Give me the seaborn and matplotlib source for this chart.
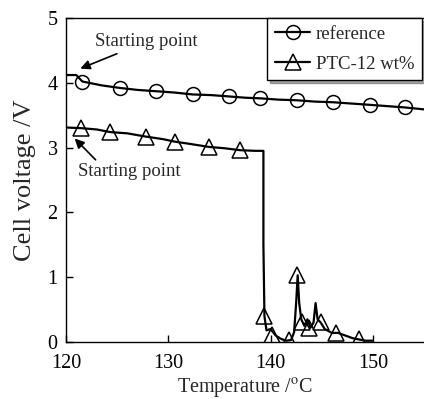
import numpy as np
import pandas as pd
import matplotlib
matplotlib.use("Agg")
import matplotlib.pyplot as plt
from matplotlib.lines import Line2D
import seaborn as sns

# reference cell: dense trace and the sparse markers
ref_t = [120.0, 121.0, 121.6, 123.5, 125.3, 127.0, 128.8, 130.6, 132.4, 134.2, 135.9,
         137.5, 139.0, 140.8, 142.6, 144.3, 146.1, 147.9, 149.7, 151.4, 153.1, 155.0]
ref_v = [4.12, 4.12, 4.02, 3.96, 3.92, 3.89, 3.87, 3.85, 3.82, 3.81, 3.79,
         3.77, 3.76, 3.74, 3.73, 3.71, 3.70, 3.68, 3.66, 3.64, 3.62, 3.59]
ref_mk_t = [121.6, 125.3, 128.8, 132.4, 135.9, 139.0, 142.6, 146.1, 149.7, 153.1]
ref_mk_v = [4.02, 3.92, 3.87, 3.82, 3.79, 3.76, 3.73, 3.70, 3.66, 3.62]

# PTC-12 wt% cell
ptc_t = [120.0, 121.5, 123.0, 124.3, 126.0, 127.8, 129.5, 130.7, 132.0, 134.0, 135.5,
         137.0, 138.5, 139.3, 139.3, 139.4, 139.6, 140.0, 140.5, 141.0, 141.5, 142.0,
         142.3, 142.5, 142.65, 142.8, 143.0, 143.3, 143.6, 143.9, 144.2, 144.4, 144.6,
         144.9, 145.3, 146.0, 146.6, 147.3, 148.0, 148.6, 149.3, 150.0]
ptc_v = [3.31, 3.30, 3.28, 3.24, 3.22, 3.17, 3.13, 3.09, 3.06, 3.01, 2.99,
         2.96, 2.95, 2.95, 1.50, 0.40, 0.18, 0.20, 0.10, 0.05, 0.02, 0.03,
         0.15, 0.60, 1.03, 0.60, 0.35, 0.25, 0.35, 0.22, 0.30, 0.60, 0.35,
         0.30, 0.20, 0.14, 0.14, 0.10, 0.06, 0.04, 0.02, 0.02]
ptc_mk_t = [121.5, 124.3, 127.8, 130.7, 134.0, 137.0, 139.4, 140.1, 141.85, 142.6,
            143.1, 143.8, 144.9, 146.4, 148.6]
ptc_mk_v = [3.31, 3.24, 3.17, 3.09, 3.01, 2.96, 0.40, 0.11, 0.03, 1.03,
            0.31, 0.22, 0.31, 0.14, 0.04]

sns.set_style("ticks")
plt.rcParams['font.family'] = ['Liberation Serif', 'DejaVu Serif']
plt.rcParams['mathtext.fontset'] = 'stix'

fig = plt.figure(figsize=(4.24, 3.99), dpi=100)
ax = fig.add_axes([66 / 424, 57 / 399, 358 / 424, 324 / 399])

ref_df = pd.DataFrame({'t': ref_t, 'v': ref_v})
ptc_df = pd.DataFrame({'t': ptc_t, 'v': ptc_v})
sns.lineplot(data=ref_df, x='t', y='v', ax=ax, color='black', lw=1.6,
             estimator=None, sort=False)
sns.lineplot(data=ptc_df, x='t', y='v', ax=ax, color='black', lw=1.6,
             estimator=None, sort=False)

ax.plot(ref_mk_t, ref_mk_v, ls='none', marker='o', ms=10, mfc='none',
        mec='black', mew=1.1)
ax.plot(ptc_mk_t, ptc_mk_v, ls='none', marker='^', ms=11, mfc='none',
        mec='black', mew=1.1)

ax.set_xlim(120, 155)
ax.set_ylim(0, 5)
ax.set_xticks([120, 130, 140, 150])
ax.set_yticks([0, 1, 2, 3, 4, 5])
ax.tick_params(direction='in', length=5, width=1, labelsize=14.5, colors='black')
ax.tick_params(axis='x', pad=9)
ax.tick_params(axis='y', pad=6)
ax.spines['right'].set_visible(False)
for s in ['left', 'bottom', 'top']:
    ax.spines[s].set_linewidth(1.0)
    ax.spines[s].set_color('black')
ax.set_xlabel('Temperature /$^{\\rm o}$C', fontsize=14.5, labelpad=2)
ax.set_ylabel('Cell voltage /V', fontsize=19, labelpad=8)

ax.annotate('Starting point', xy=(121.4, 4.22), xytext=(122.8, 4.63),
            fontsize=13.5, va='center', ha='left',
            arrowprops=dict(arrowstyle='-|>', color='black', lw=1.2,
                            mutation_scale=14, shrinkA=0, shrinkB=0))
ax.annotate('Starting point', xy=(120.85, 3.14), xytext=(121.2, 2.63),
            fontsize=13.5, va='center', ha='left',
            arrowprops=dict(arrowstyle='-|>', color='black', lw=1.2,
                            mutation_scale=14, shrinkA=0, shrinkB=0,
                            relpos=(0.2, 1.0)))

handles = [Line2D([], [], color='black', lw=1.6, marker='o', ms=10, mfc='none', mew=1.1),
           Line2D([], [], color='black', lw=1.6, marker='^', ms=11, mfc='none', mew=1.1)]
leg = ax.legend(handles, ['reference', 'PTC-12 wt%'], loc='upper right',
                bbox_to_anchor=(356 / 358, 1.0), borderaxespad=0, fontsize=13.5,
                frameon=True, fancybox=False, shadow=True, edgecolor='black',
                framealpha=1, handlelength=1.9, handletextpad=0.3,
                borderpad=0.4, labelspacing=0.7)
leg.get_frame().set_linewidth(1.0)

fig.savefig('out.png', dpi=100)
